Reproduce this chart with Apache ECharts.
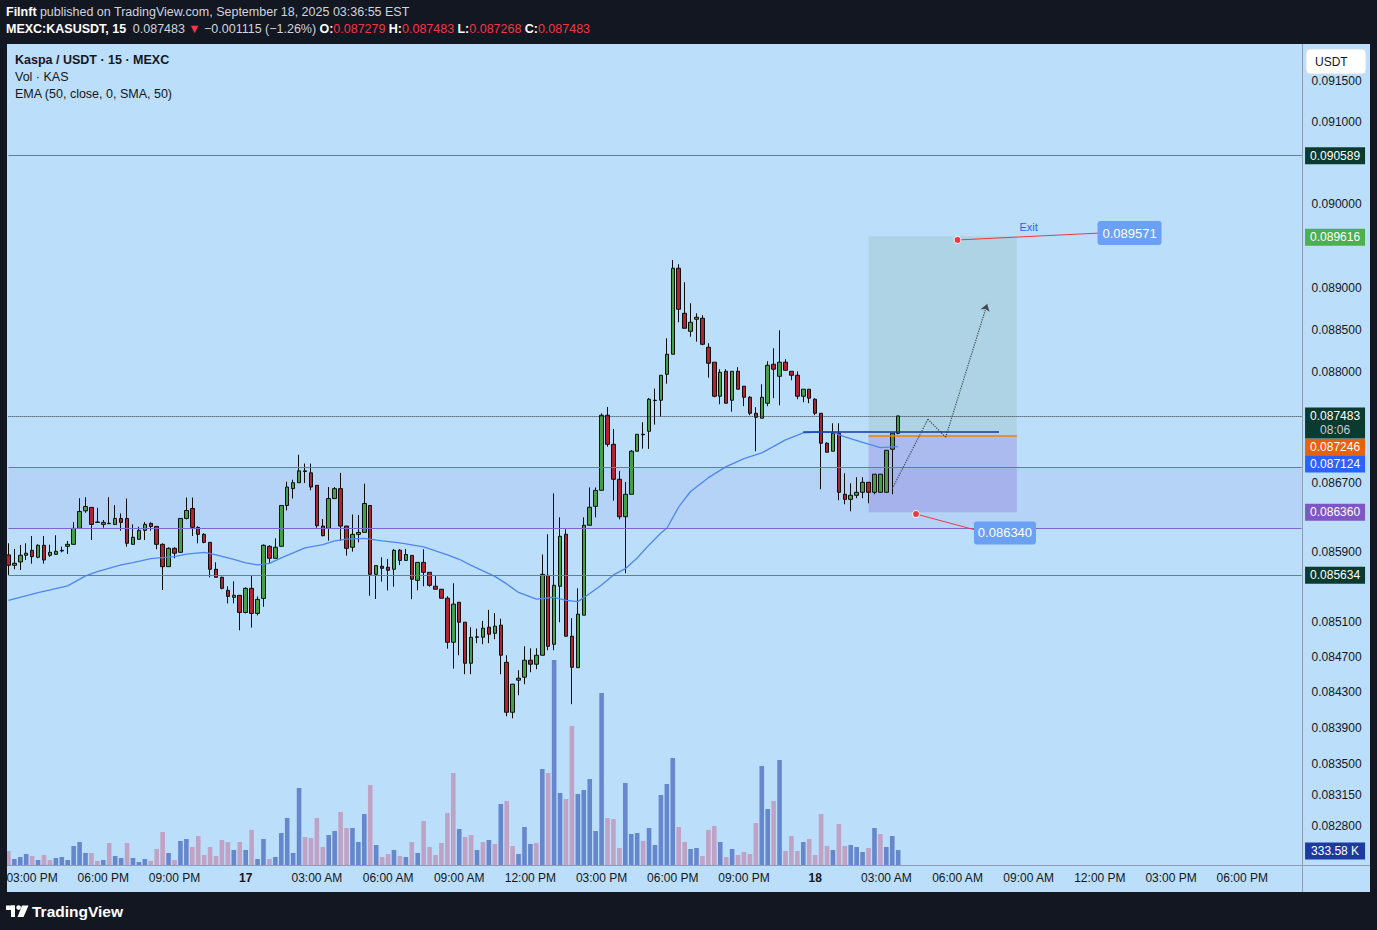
<!DOCTYPE html>
<html><head><meta charset="utf-8">
<script src="https://cdn.jsdelivr.net/npm/echarts@6/dist/echarts.min.js"></script>
<style>html,body{margin:0;padding:0;background:#131722;}#c{width:1377px;height:930px;}</style>
</head><body><div id="c"></div>
<script>
// ---------- DATA ----------
const startLabel = '2025-09-16 14:00'; // first candle, 15-minute bars
const barCount = 219;                  // slots on the time axis (151 candles + empty future space)
const timeTickLabels = ['03:00 PM','06:00 PM','09:00 PM','17','03:00 AM','06:00 AM','09:00 AM','12:00 PM','03:00 PM','06:00 PM','09:00 PM','18','03:00 AM','06:00 AM','09:00 AM','12:00 PM','03:00 PM','06:00 PM'];
// visible price-scale ticks (those hidden behind the coloured price tags are left out)
const priceTicks = [0.0915,0.091,0.09,0.089,0.0885,0.088,0.0867,0.0859,0.0851,0.0847,0.0843,0.0839,0.0835,0.08315,0.0828];

const open = [
0.085868,0.085749,0.085787,0.085864,0.085921,0.085841,0.085979,0.085864,0.085875,0.085914,
0.085967,0.085990,0.086174,0.086377,0.086416,0.086247,0.086220,0.086232,0.086220,0.086289,
0.086289,0.085990,0.086048,0.086151,0.086232,0.086197,0.085990,0.085733,0.085944,0.085898,
0.086289,0.086404,0.086186,0.086105,0.086013,0.085703,0.085611,0.085461,0.085381,0.085404,
0.085208,0.085484,0.085197,0.085369,0.085967,0.085829,0.085967,0.086439,0.086634,0.086703,
0.086841,0.086818,0.086673,0.086201,0.086174,0.086519,0.086634,0.086201,0.085956,0.086105,
0.086128,0.086439,0.085645,0.085737,0.085726,0.085703,0.085922,0.085805,0.085862,0.085576,
0.085782,0.085668,0.085508,0.085474,0.085371,0.084869,0.085325,0.085097,0.084630,0.084930,
0.084926,0.085040,0.084971,0.085063,0.084641,0.084076,0.084438,0.084472,0.084664,0.084619,
0.084721,0.085633,0.084846,0.085508,0.086106,0.084937,0.084580,0.085177,0.086210,0.086429,
0.086615,0.087491,0.087151,0.086743,0.086309,0.086569,0.087070,0.087268,0.087303,0.087663,
0.087667,0.087973,0.088209,0.089232,0.088695,0.088481,0.088624,0.088636,0.088292,0.088115,
0.087714,0.088008,0.087667,0.088008,0.087832,0.087702,0.087514,0.087456,0.087632,0.088091,
0.087949,0.088115,0.088008,0.087961,0.087714,0.087797,0.087679,0.087514,0.087163,0.087070,
0.087280,0.086569,0.086510,0.086557,0.086592,0.086708,0.086592,0.086592,0.086592,0.087093,
0.087279];
const high = [
0.086002,0.085937,0.085983,0.086002,0.086086,0.085990,0.086086,0.085986,0.086094,0.085963,
0.086029,0.086247,0.086523,0.086535,0.086423,0.086412,0.086270,0.086535,0.086443,0.086347,
0.086519,0.086220,0.086193,0.086247,0.086243,0.086197,0.086002,0.085956,0.085956,0.086289,
0.086531,0.086531,0.086197,0.086117,0.086013,0.085783,0.085618,0.085507,0.085565,0.085404,
0.085496,0.085634,0.085392,0.085990,0.085979,0.086059,0.086439,0.086715,0.086738,0.087029,
0.086926,0.086926,0.086673,0.086282,0.086653,0.086653,0.086818,0.086201,0.086335,0.086328,
0.086692,0.086439,0.085745,0.085841,0.085822,0.085937,0.085937,0.085937,0.085862,0.085782,
0.085933,0.085668,0.085637,0.085474,0.085394,0.085542,0.085325,0.085097,0.085040,0.085024,
0.085112,0.085238,0.085200,0.085138,0.084721,0.084393,0.084551,0.084823,0.084800,0.084800,
0.085873,0.086106,0.086579,0.086302,0.086164,0.085143,0.085485,0.086302,0.086648,0.086648,
0.087513,0.087588,0.087330,0.086840,0.086712,0.087085,0.087268,0.087409,0.087694,0.087804,
0.087961,0.088398,0.089331,0.089280,0.089065,0.088814,0.088695,0.088672,0.088339,0.088115,
0.088032,0.088032,0.088008,0.088056,0.087832,0.087714,0.087585,0.087855,0.088126,0.088280,
0.088493,0.088150,0.088008,0.088008,0.087797,0.087797,0.087691,0.087514,0.087175,0.087397,
0.087397,0.086813,0.086697,0.086767,0.086767,0.086708,0.086802,0.086802,0.087081,0.087280,
0.087483];
const low = [
0.085638,0.085703,0.085695,0.085810,0.085768,0.085829,0.085768,0.085845,0.085868,0.085898,
0.085879,0.085990,0.086174,0.086354,0.086040,0.086239,0.086182,0.086224,0.086220,0.086147,
0.085963,0.085990,0.086048,0.086040,0.086147,0.085933,0.085465,0.085733,0.085829,0.085898,
0.086278,0.086086,0.086002,0.086002,0.085611,0.085611,0.085473,0.085312,0.085312,0.085005,
0.085197,0.085036,0.085174,0.085273,0.085772,0.085829,0.085967,0.086381,0.086519,0.086703,
0.086700,0.086615,0.086182,0.086082,0.086032,0.086519,0.086029,0.085860,0.085906,0.086013,
0.086128,0.085400,0.085362,0.085561,0.085461,0.085503,0.085751,0.085805,0.085360,0.085462,
0.085508,0.085503,0.085474,0.085371,0.084796,0.084569,0.084721,0.084506,0.084506,0.084858,
0.084846,0.084858,0.084903,0.084506,0.084031,0.084008,0.084268,0.084393,0.084528,0.084562,
0.084721,0.084778,0.084778,0.085097,0.084937,0.084167,0.084580,0.085177,0.086210,0.086302,
0.086615,0.087123,0.086495,0.086279,0.085658,0.086569,0.087070,0.087100,0.087097,0.087381,
0.087474,0.087862,0.088209,0.088588,0.088517,0.088417,0.088358,0.088316,0.087933,0.087702,
0.087620,0.087632,0.087533,0.087797,0.087597,0.087491,0.087070,0.087456,0.087597,0.087691,
0.087608,0.088020,0.087902,0.087679,0.087644,0.087632,0.087491,0.086627,0.087058,0.087070,
0.086500,0.086453,0.086372,0.086523,0.086523,0.086465,0.086569,0.086592,0.086592,0.086569,
0.087268];
const close = [
0.085749,0.085772,0.085864,0.085887,0.085848,0.085979,0.085810,0.085898,0.085910,0.085921,
0.085990,0.086174,0.086370,0.086427,0.086220,0.086243,0.086243,0.086228,0.086289,0.086243,
0.086002,0.086071,0.086151,0.086220,0.086197,0.085990,0.085733,0.085944,0.085887,0.086289,
0.086381,0.086186,0.086105,0.086013,0.085703,0.085611,0.085484,0.085392,0.085404,0.085208,
0.085484,0.085197,0.085358,0.085979,0.085829,0.085956,0.086439,0.086653,0.086703,0.086841,
0.086834,0.086653,0.086205,0.086090,0.086519,0.086634,0.086201,0.085944,0.086105,0.086128,
0.086462,0.085645,0.085745,0.085714,0.085691,0.085921,0.085805,0.085873,0.085588,0.085782,
0.085668,0.085519,0.085474,0.085371,0.084869,0.085303,0.085097,0.084630,0.084926,0.084926,
0.085029,0.084960,0.085052,0.084721,0.084076,0.084393,0.084460,0.084664,0.084619,0.084721,
0.085645,0.084823,0.085519,0.086083,0.084937,0.084585,0.085189,0.086210,0.086418,0.086614,
0.087491,0.087151,0.086743,0.086309,0.086569,0.087070,0.087268,0.087262,0.087679,0.087667,
0.087961,0.088209,0.089232,0.088743,0.088517,0.088588,0.088648,0.088327,0.088103,0.087714,
0.087996,0.087632,0.088008,0.087797,0.087702,0.087514,0.087467,0.087702,0.088079,0.088032,
0.088115,0.088020,0.087961,0.087714,0.087797,0.087691,0.087514,0.087163,0.087058,0.087280,
0.086592,0.086510,0.086557,0.086592,0.086708,0.086592,0.086802,0.086802,0.087081,0.087280,
0.087483];
// volume in thousands of KAS
const volume = [
311,133,178,245,200,111,222,111,156,178,
111,423,512,267,267,89,111,489,200,156,
489,156,67,133,89,356,734,267,111,534,
578,400,645,222,400,200,556,512,334,512,
334,778,133,578,133,178,712,1045,267,1712,
623,600,1045,400,667,756,1179,823,823,512,
1134,1779,445,178,245,334,200,178,512,267,
979,400,222,489,1156,2046,801,623,667,334,
512,556,467,1357,1423,423,245,845,467,489,
2135,2046,4559,1601,1468,3091,1579,1668,1913,756,
3825,1045,1023,378,1824,689,712,534,823,445,
1557,1801,2380,845,512,356,378,200,778,867,
512,178,356,222,289,245,934,2202,1245,1423,
2335,311,645,311,512,578,222,1134,423,334,
912,423,445,400,289,378,823,689,400,645,
333.58];
// 1 = blue (up) volume bar, 0 = pink (down) volume bar
const volumeUp = '0111010011111100101101110001011000000010101101111100001100111010010101000000100101010011101011001111100011101111100110001010000110100010000100111010111';
// EMA(50) read at selected candles
const emaIndex = [0,5,10,13,15,19,21,24,28,30,33,35,38,40,42,44,46,48,50,53,55,57,60,63,66,70,74,76,78,82,84,86,89,92,94,96,98,100,102,104,106,108,110,111,113,115,118,121,124,127,131,134,137,139,141,144,147,150];
const emaValue = [0.085347,0.085435,0.085512,0.085627,0.085676,0.085753,0.085780,0.085825,0.085848,0.085876,0.085897,0.085868,0.085816,0.085776,0.085753,0.085770,0.085833,0.085891,0.085948,0.085986,0.086029,0.086049,0.086058,0.086029,0.086006,0.085960,0.085868,0.085818,0.085747,0.085621,0.085535,0.085437,0.085360,0.085382,0.085346,0.085332,0.085426,0.085523,0.085638,0.085710,0.085833,0.085983,0.086121,0.086175,0.086422,0.086601,0.086762,0.086890,0.086983,0.087050,0.087202,0.087284,0.087296,0.087290,0.087237,0.087172,0.087112,0.087124];
// horizontal levels
const levelTop = 0.090589, levelBottom = 0.085634;
const zoneHigh = 0.086883, zoneLow = 0.086175;
const lastPrice = 0.087483, emaLast = 0.087124;
const entry = 0.087246, target = 0.089616, stop = 0.086360;
const navyLevel = 0.087295;
const exitPrice = 0.089571, stopNote = 0.086340;
const lastVolume = 333.58;
const projection = [[149,0.086634],[155,0.087444],[158,0.087233],[165,0.088805]];

// ---------- BUILD ----------
const FONT = "'Liberation Sans', Arial, sans-serif";
const cats = [];
for (let i = 0; i < barCount; i++) {
  const m = 14 * 60 + i * 15;
  const d = 16 + Math.floor(m / 1440), mm = m % 1440;
  cats.push('09-' + d + ' ' + String(Math.floor(mm / 60)).padStart(2, '0') + ':' + String(mm % 60).padStart(2, '0'));
}
const candles = open.map((o, i) => [o, close[i], low[i], high[i]]);
const vols = volume.map((v, i) => ({ value: v, itemStyle: { color: volumeUp[i] === '1' ? '#6787cc' : '#c0a3c4' } }));
const ema = emaIndex.map((k, j) => [cats[k], emaValue[j]]);
const FIRST = cats[0], LAST = cats[barCount - 1];
const BOX = 'path://M3,0H61Q64,0,64,3V21Q64,24,61,24H3Q0,24,0,21V3Q0,0,3,0Z';

function tag(price, text, bg, dy, h, extraLabel) {
  return {
    coord: [LAST, price], symbol: 'rect', symbolSize: [60, h || 17], symbolOffset: [33.5, dy || 0],
    itemStyle: { color: bg },
    label: Object.assign({ show: true, position: 'inside', formatter: text, color: '#ffffff', fontSize: 12, fontFamily: FONT }, extraLabel || {})
  };
}
function seg(i0, y0, i1, y1, color, type, width, endSym) {
  return [{ coord: [cats[i0], y0], symbol: 'none' },
          { coord: [cats[i1], y1], symbol: endSym || 'none', symbolSize: 7,
            lineStyle: { color: color, type: type || 'solid', width: width || 1 } }];
}
function hline(y, color, type) { return seg(0, y, barCount - 1, y, color, type, 1); }

const option = {
  animation: false,
  backgroundColor: '#131722',
  grid: { left: 5.434, top: 44, width: 1299.1, height: 821, show: false },
  xAxis: {
    type: 'category', data: cats, boundaryGap: true,
    axisLine: { show: false }, axisTick: { show: false }, splitLine: { show: false },
    axisLabel: {
      interval: (idx) => idx >= 4 && (idx - 4) % 12 === 0,
      formatter: (val, idx) => { const t = timeTickLabels[(idx - 4) / 12] || ''; return /^\d+$/.test(t) ? '{b|' + t + '}' : t; },
      color: '#131722', fontSize: 12, fontFamily: FONT, margin: 7,
      rich: { b: { fontWeight: 'bold', fontSize: 12, fontFamily: FONT, color: '#131722' } }
    }
  },
  yAxis: [{
    type: 'log', position: 'right', min: 0.082372, max: 0.091955,
    axisLine: { show: false }, axisTick: { show: false }, splitLine: { show: false },
    axisLabel: { customValues: priceTicks, formatter: (v) => Number(v).toFixed(6), color: '#131722', fontSize: 12, fontFamily: FONT, margin: 7 }
  }, {
    type: 'value', min: 0, max: 18259, show: false
  }],
  series: [
    {
      type: 'bar', name: 'Vol', xAxisIndex: 0, yAxisIndex: 1, data: vols, barWidth: 4.6, z: 1,
      markPoint: { silent: true, data: [tag(lastVolume, '333.58 K', '#1c3aa0', 1)] }
    },
    {
      type: 'candlestick', name: 'KASUSDT', yAxisIndex: 0, data: candles, barWidth: 4, z: 3,
      itemStyle: { color: '#43a047', color0: '#b2222f', borderColor: '#0d0d0d', borderColor0: '#0d0d0d', borderWidth: 1 },
      markArea: {
        silent: true, z: 1,
        data: [
          [{ xAxis: FIRST, yAxis: zoneHigh, itemStyle: { color: 'rgba(120,100,210,0.09)' } }, { xAxis: LAST, yAxis: zoneLow }],
          [{ xAxis: cats[145], yAxis: target, itemStyle: { color: 'rgba(144,189,181,0.32)' } }, { xAxis: cats[170], yAxis: entry }],
          [{ xAxis: cats[145], yAxis: entry, itemStyle: { color: 'rgba(130,95,208,0.28)' } }, { xAxis: cats[170], yAxis: stop }]
        ]
      },
      markLine: {
        silent: true, symbol: ['none', 'none'], label: { show: false },
        data: [
          hline(levelTop, '#5c8290'), hline(levelBottom, '#5c8290'),
          hline(zoneHigh, '#7b68c8'), hline(zoneLow, '#7b68c8'),
          hline(lastPrice, '#2a2e39', 'dotted'),
          seg(134, navyLevel, 167, navyLevel, '#17399a', 'solid', 1.5),
          seg(145, entry, 170, entry, '#f57c00', 'solid', 1.5),
          seg(160, exitPrice, 184, 0.089654, '#f23645', 'solid', 1),
          seg(153, stopNote, 163, 0.086156, '#f23645', 'solid', 1),
          seg(projection[0][0], projection[0][1], projection[1][0], projection[1][1], '#434651', 'dotted', 1.2),
          seg(projection[1][0], projection[1][1], projection[2][0], projection[2][1], '#434651', 'dotted', 1.2),
          seg(projection[2][0], projection[2][1], projection[3][0], projection[3][1], '#434651', 'dotted', 1.2, 'arrow')
        ]
      }
    },
    {
      type: 'line', name: 'EMA', yAxisIndex: 0, data: ema, showSymbol: false, z: 4,
      lineStyle: { color: '#4f86ef', width: 1.3 }, clip: false,
      markPoint: {
        silent: true,
        data: [
          { coord: [cats[160], exitPrice], symbol: 'circle', symbolSize: 7, itemStyle: { color: '#f23645', borderColor: '#ffffff', borderWidth: 1 }, label: { show: false } },
          { coord: [cats[153], stopNote], symbol: 'circle', symbolSize: 7, itemStyle: { color: '#f23645', borderColor: '#ffffff', borderWidth: 1 }, label: { show: false } },
          { coord: [cats[189], 0.089654], symbol: BOX, symbolSize: [64, 24], itemStyle: { color: '#6aa1f5' },
            label: { show: true, position: 'inside', formatter: '0.089571', color: '#ffffff', fontSize: 13, fontFamily: FONT } },
          { coord: [cats[168], 0.086121], symbol: BOX, symbolSize: [62, 23], itemStyle: { color: '#6aa1f5' },
            label: { show: true, position: 'inside', formatter: '0.086340', color: '#ffffff', fontSize: 13, fontFamily: FONT } },
          { coord: [cats[172], 0.089726], symbol: 'rect', symbolSize: 1, itemStyle: { color: 'rgba(0,0,0,0)' },
            label: { show: true, position: 'inside', formatter: 'Exit', color: '#2962ff', fontSize: 11, fontFamily: FONT } },
          tag(levelTop, '0.090589', '#0b3b2f', 0),
          tag(levelBottom, '0.085634', '#0b3b2f', 0),
          tag(target, '0.089616', '#4caf50', 1),
          tag(stop, '0.086360', '#7e57c2', 0),
          tag(entry, '0.087246', '#e8620a', 11),
          tag(emaLast, '0.087124', '#2962ff', 17.4),
          tag(lastPrice, '{a|0.087483}\n{b|08:06}', '#0b3b2f', 7, 31, {
            rich: { a: { color: '#ffffff', fontSize: 12, fontFamily: FONT, lineHeight: 14 }, b: { color: '#c9ccd3', fontSize: 12, fontFamily: FONT, lineHeight: 14 } }
          })
        ]
      }
    }
  ],
  graphic: [
    { type: 'rect', z: -10, silent: true, shape: { x: 7, y: 44, width: 1363, height: 848 }, style: { fill: '#bbdefb' } },
    { type: 'rect', z: 100, silent: true, shape: { x: 0, y: 40, width: 7, height: 860 }, style: { fill: '#131722' } },
    { type: 'line', z: 50, silent: true, shape: { x1: 1302.5, y1: 44, x2: 1302.5, y2: 892 }, style: { stroke: '#8c9db4', lineWidth: 1 } },
    { type: 'line', z: 50, silent: true, shape: { x1: 7, y1: 865.5, x2: 1370, y2: 865.5 }, style: { stroke: '#8c9db4', lineWidth: 1 } },
    { type: 'text', z: 60, silent: true, x: 6, y: 12, style: {
        text: '{b|Filnft} {n|published on TradingView.com, September 18, 2025 03:36:55 EST}', verticalAlign: 'middle',
        rich: { b: { fill: '#ffffff', font: '600 12.5px ' + FONT }, n: { fill: '#d1d4dc', font: '12.5px ' + FONT } } } },
    { type: 'text', z: 60, silent: true, x: 6, y: 29, style: {
        text: '{b|MEXC:KASUSDT, 15}  {n|0.087483} {r|▼} {n|−0.001115 (−1.26%)} {b|O:}{r|0.087279} {b|H:}{r|0.087483} {b|L:}{r|0.087268} {b|C:}{r|0.087483}',
        verticalAlign: 'middle',
        rich: { b: { fill: '#ffffff', font: 'bold 12.5px ' + FONT }, n: { fill: '#d1d4dc', font: '12.5px ' + FONT }, r: { fill: '#f23645', font: '12.5px ' + FONT } } } },
    { type: 'text', z: 60, silent: true, x: 15, y: 60, style: { text: 'Kaspa / USDT · 15 · MEXC', fill: '#131722', font: 'bold 12.5px ' + FONT, verticalAlign: 'middle' } },
    { type: 'text', z: 60, silent: true, x: 15, y: 77, style: { text: 'Vol · KAS', fill: '#131722', font: '12.5px ' + FONT, verticalAlign: 'middle' } },
    { type: 'text', z: 60, silent: true, x: 15, y: 94, style: { text: 'EMA (50, close, 0, SMA, 50)', fill: '#131722', font: '12.5px ' + FONT, verticalAlign: 'middle' } },
    { type: 'rect', z: 60, silent: true, shape: { x: 1306, y: 49, width: 60, height: 25, r: 4 }, style: { fill: '#ffffff', stroke: '#d6dde6', lineWidth: 1 } },
    { type: 'text', z: 61, silent: true, x: 1315, y: 62, style: { text: 'USDT', fill: '#131722', font: '12px ' + FONT, verticalAlign: 'middle' } },
    { type: 'rect', z: 60, silent: true, shape: { x: 6, y: 905.5, width: 9, height: 4.5 }, style: { fill: '#ffffff' } },
    { type: 'rect', z: 60, silent: true, shape: { x: 11, y: 905.5, width: 4, height: 11.5 }, style: { fill: '#ffffff' } },
    { type: 'circle', z: 60, silent: true, shape: { cx: 18.6, cy: 907.6, r: 2.3 }, style: { fill: '#ffffff' } },
    { type: 'polygon', z: 60, silent: true, shape: { points: [[22, 905.5], [28.5, 905.5], [23.5, 917], [17.5, 917]] }, style: { fill: '#ffffff' } },
    { type: 'text', z: 60, silent: true, x: 32, y: 911, style: { text: 'TradingView', fill: '#ffffff', font: 'bold 15.5px ' + FONT, verticalAlign: 'middle' } }
  ]
};
const chart = echarts.init(document.getElementById('c'), null, { renderer: 'svg', width: 1377, height: 930 });
chart.setOption(option);
</script>
</body></html>
